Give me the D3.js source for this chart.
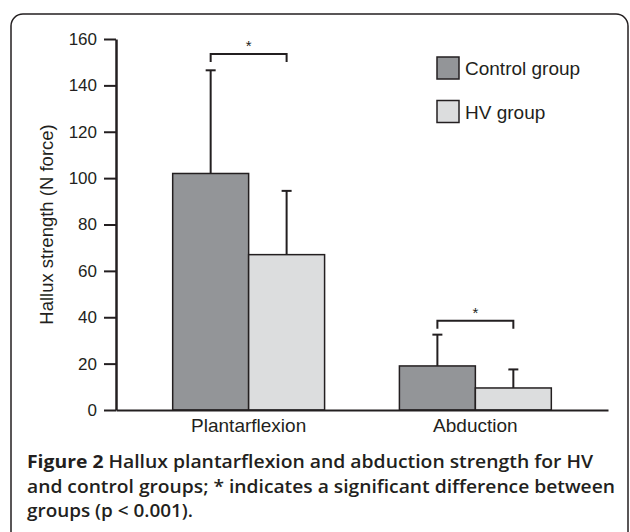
<!DOCTYPE html>
<html>
<head>
<meta charset="utf-8">
<script src="https://cdn.jsdelivr.net/npm/d3@7"></script>
<style>
  html, body { margin: 0; padding: 0; background: #fff; }
  svg { display: block; }
  text { fill: #231f20; }
</style>
</head>
<body>
<div id="svg-container"></div>
<script>
const categories = ['Plantarflexion', 'Abduction'];
const groups = ['Control group', 'HV group'];
const controlMeans = [102, 19];
const controlSD = [44.5, 13.5];
const hvMeans = [67, 9.5];
const hvSD = [27.5, 8];
const sigLevels = [153.5, 38.5];
const yTicks = [0, 20, 40, 60, 80, 100, 120, 140, 160];
const captionLines = [
  ['Figure 2', ' Hallux plantarflexion and abduction strength for HV'],
  ['', 'and control groups; * indicates a significant difference between'],
  ['', 'groups (p < 0.001).']
];

const width = 630;
const height = 532;
const ink = '#231f20';
const colors = ['#939598', '#dcddde'];

const svg = d3
  .select('#svg-container')
  .append('svg')
  .attr('width', width)
  .attr('height', height);

svg.append('rect').attr('width', width).attr('height', height).attr('fill', '#fff');

// frame round the figure
svg
  .append('rect')
  .attr('x', 11)
  .attr('y', 14)
  .attr('width', 617)
  .attr('height', 530)
  .attr('rx', 12)
  .attr('fill', 'none')
  .attr('stroke', ink)
  .attr('stroke-width', 1.5);

const xScale = d3
  .scaleBand()
  .domain(categories)
  .range([116, 608])
  .paddingInner(0.33)
  .paddingOuter(0.25);

const xSub = d3
  .scaleBand()
  .domain(groups)
  .range([0, xScale.bandwidth()]);

const yScale = d3.scaleLinear().domain([0, 160]).range([410, 39]);

const rows = categories.flatMap((c, i) => [
  { cat: c, group: groups[0], mean: controlMeans[i], sd: controlSD[i], color: colors[0] },
  { cat: c, group: groups[1], mean: hvMeans[i], sd: hvSD[i], color: colors[1] }
]);

const barX = d => xScale(d.cat) + xSub(d.group);
const barMid = d => barX(d) + xSub.bandwidth() / 2;

// error bars (upper only)
const err = svg.append('g').attr('stroke', ink).attr('stroke-width', 2);
err
  .selectAll('line.stem')
  .data(rows)
  .enter()
  .append('line')
  .attr('class', 'stem')
  .attr('x1', barMid)
  .attr('x2', barMid)
  .attr('y1', d => yScale(d.mean))
  .attr('y2', d => yScale(d.mean + d.sd));
err
  .selectAll('line.cap')
  .data(rows)
  .enter()
  .append('line')
  .attr('class', 'cap')
  .attr('x1', d => barMid(d) - 5)
  .attr('x2', d => barMid(d) + 5)
  .attr('y1', d => yScale(d.mean + d.sd))
  .attr('y2', d => yScale(d.mean + d.sd));

svg
  .append('g')
  .selectAll('rect')
  .data(rows)
  .enter()
  .append('rect')
  .attr('x', barX)
  .attr('y', d => yScale(d.mean))
  .attr('width', xSub.bandwidth())
  .attr('height', d => yScale(0) - yScale(d.mean))
  .attr('fill', d => d.color)
  .attr('stroke', ink)
  .attr('stroke-width', 1.5);

// y axis
const yAxis = svg
  .append('g')
  .attr('transform', 'translate(116,0)')
  .call(d3.axisLeft(yScale).tickValues(yTicks).tickSize(12).tickSizeOuter(0).tickPadding(7));
yAxis.select('.domain').attr('stroke', ink).attr('stroke-width', 2.5);
yAxis.selectAll('.tick line').attr('stroke', ink).attr('stroke-width', 2);
yAxis
  .selectAll('.tick text')
  .attr('font-family', 'Liberation Sans, Arial, sans-serif')
  .attr('font-size', 17)
  .attr('fill', ink);

// x axis
const xAxis = svg
  .append('g')
  .attr('transform', 'translate(0,410)')
  .call(d3.axisBottom(xScale).tickSize(0).tickSizeOuter(0).tickPadding(9));
xAxis.select('.domain').attr('stroke', ink).attr('stroke-width', 2);
xAxis
  .selectAll('.tick text')
  .attr('font-family', 'Liberation Sans, Arial, sans-serif')
  .attr('font-size', 19)
  .attr('fill', ink);

svg
  .append('text')
  .attr('transform', `translate(53,${(yScale(0) + yScale(160)) / 2 + 0}) rotate(-90)`)
  .attr('text-anchor', 'middle')
  .attr('font-family', 'Liberation Sans, Arial, sans-serif')
  .attr('font-size', 18.5)
  .text('Hallux strength (N force)');

// significance brackets
categories.forEach((c, i) => {
  const x1 = xScale(c) + xSub(groups[0]) + xSub.bandwidth() / 2;
  const x2 = xScale(c) + xSub(groups[1]) + xSub.bandwidth() / 2;
  const y = yScale(sigLevels[i]);
  svg
    .append('path')
    .attr('d', `M${x1},${y + 8}V${y}H${x2}V${y + 8}`)
    .attr('fill', 'none')
    .attr('stroke', ink)
    .attr('stroke-width', 2);
  svg
    .append('text')
    .attr('x', (x1 + x2) / 2)
    .attr('y', y - 3)
    .attr('text-anchor', 'middle')
    .attr('font-family', 'Liberation Sans, Arial, sans-serif')
    .attr('font-size', 15)
    .text('*');
});

// legend
const legend = svg
  .append('g')
  .selectAll('g')
  .data(groups)
  .enter()
  .append('g')
  .attr('transform', (d, i) => `translate(437,${57 + i * 43.5})`);
legend
  .append('rect')
  .attr('width', 22)
  .attr('height', 22)
  .attr('fill', (d, i) => colors[i])
  .attr('stroke', ink)
  .attr('stroke-width', 1.5);
legend
  .append('text')
  .attr('x', 28)
  .attr('y', 18)
  .attr('font-family', 'Liberation Sans, Arial, sans-serif')
  .attr('font-size', 19)
  .text(d => d);

// caption
const lineWidths = [566, 588, 166];
captionLines.forEach((parts, i) => {
  const t = svg
    .append('text')
    .attr('x', 27)
    .attr('y', 468 + i * 24.5)
    .attr('font-family', 'Open Sans, sans-serif')
    .attr('font-size', 18)
    .attr('font-weight', 600)
    .attr('textLength', lineWidths[i])
    .attr('lengthAdjust', 'spacingAndGlyphs');
  if (parts[0]) t.append('tspan').attr('font-weight', 700).text(parts[0]);
  t.append('tspan').text(parts[1]);
});
</script>
</body>
</html>
